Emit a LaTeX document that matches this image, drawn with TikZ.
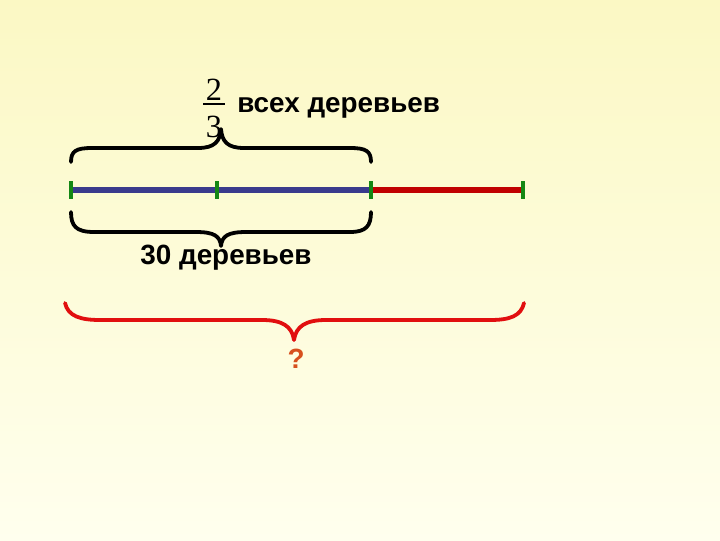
\documentclass[tikz,border=0pt]{standalone}
\usepackage{fontspec}
\newfontfamily\arialfont{Liberation Sans}
\newfontfamily\timesfont{Liberation Serif}
\usetikzlibrary{positioning,calc}
\definecolor{bgtop}{RGB}{251,248,196}
\definecolor{bgbottom}{RGB}{255,255,238}
\definecolor{segblue}{RGB}{58,58,140}
\definecolor{segred}{RGB}{192,0,0}
\definecolor{tickgreen}{RGB}{20,135,20}
\definecolor{bracered}{RGB}{225,15,15}
\definecolor{askorange}{RGB}{215,80,30}
\tikzset{
  segline/.style={line width=4pt},
  tickmark/.style={line width=2.9pt, tickgreen},
  bracepath/.style={line width=2.7pt, line cap=round, line join=round},
  wordlabel/.style={font=\arialfont\bfseries\fontsize{19.8}{24}\selectfont, inner sep=0pt},
  fracdigit/.style={font=\timesfont\fontsize{23}{27}\selectfont, inner sep=0pt},
  fracbar/.style={line width=1.3pt}
}
\begin{document}
\begin{tikzpicture}[x=0.025cm, y=-0.025cm]
  \shade[top color=bgtop, bottom color=bgbottom] (0,0) rectangle (720,540);
  \useasboundingbox (0,0) rectangle (720,540);

  % the segment and its marks
  \coordinate (t0) at (71,190);
  \coordinate (t1) at (217,190);
  \coordinate (t2) at (371,190);
  \coordinate (t3) at (523,190);
  \draw[segline, segblue] (t0) -- (t2);
  \draw[segline, segred] (t2) -- (t3);
  \foreach \t in {t0,t1,t2,t3}
    \draw[tickmark] ($(\t)+(0,-9)$) -- ($(\t)+(0,9)$);

  % upper brace
  \draw[bracepath] (71,162) .. controls (71,151) and (76,148) .. (92,148) -- (198,148)
    .. controls (214,148) and (220,142) .. (221,129) .. controls (222,142) and (228,148) .. (244,148)
    -- (350,148) .. controls (366,148) and (371,151) .. (371,162);
  \node[fracdigit, anchor=base] (num) at (214,100) {2};
  \node[fracdigit, anchor=base] (den) at (214,137) {3};
  \draw[fracbar] (203,104) -- (225,104);
  \node[wordlabel, anchor=base west] (share) at (237,112) {всех деревьев};

  % lower brace
  \draw[bracepath] (71,212) .. controls (71,226) and (76,232) .. (94,232) -- (196,232)
    .. controls (214,232) and (220,236) .. (221,246) .. controls (222,236) and (228,232) .. (246,232)
    -- (350,232) .. controls (366,232) and (371,226) .. (371,212);
  \node[wordlabel, anchor=base] (part) at (226,264) {30 деревьев};

  % whole brace
  \draw[bracepath, bracered] (65,303) .. controls (68,316) and (80,320) .. (100,320) -- (262,320)
    .. controls (282,320) and (292,326) .. (294,340) .. controls (296,326) and (306,320) .. (326,320)
    -- (490,320) .. controls (510,320) and (521,316) .. (524,303);
  \node[wordlabel, anchor=base, text=askorange] (whole) at (296,368) {?};
\end{tikzpicture}
\end{document}
